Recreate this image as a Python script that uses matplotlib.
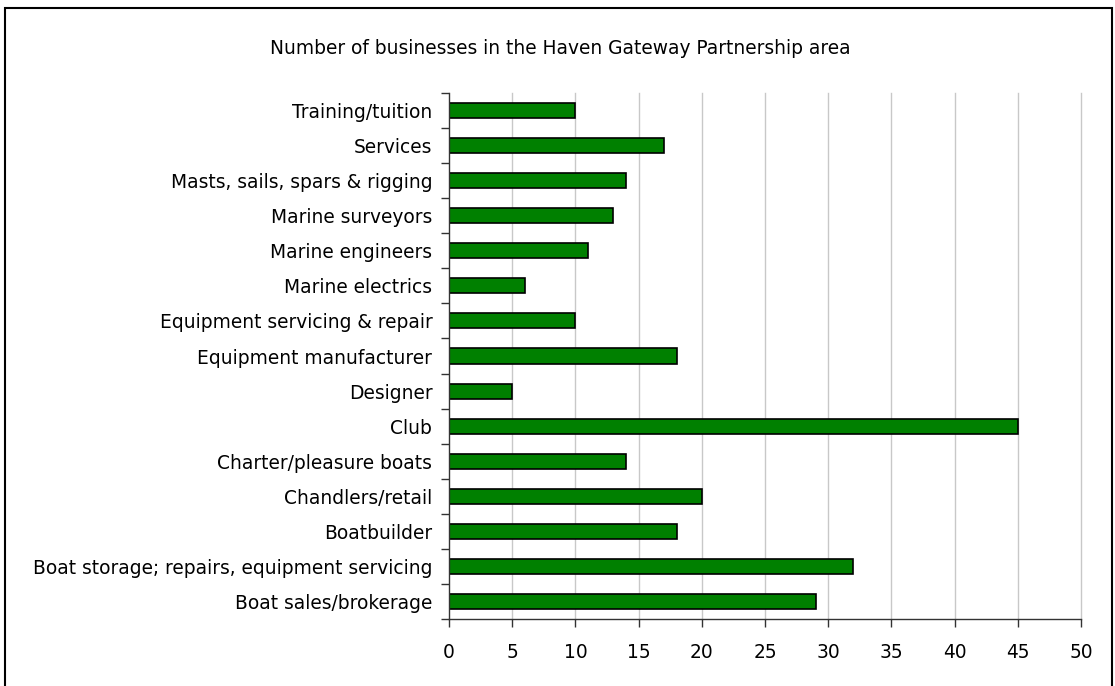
import matplotlib
matplotlib.use("Agg")
import matplotlib.pyplot as plt
from matplotlib.patches import Rectangle

categories = [
    "Boat sales/brokerage",
    "Boat storage; repairs, equipment servicing",
    "Boatbuilder",
    "Chandlers/retail",
    "Charter/pleasure boats",
    "Club",
    "Designer",
    "Equipment manufacturer",
    "Equipment servicing & repair",
    "Marine electrics",
    "Marine engineers",
    "Marine surveyors",
    "Masts, sails, spars & rigging",
    "Services",
    "Training/tuition",
]
counts = [29, 32, 18, 20, 14, 45, 5, 18, 10, 6, 11, 13, 14, 17, 10]
x_ticks = [0, 5, 10, 15, 20, 25, 30, 35, 40, 45, 50]
title = "Number of businesses in the Haven Gateway Partnership area"

plt.rcParams["font.family"] = ["DejaVu Sans"]
FS = 13.4

W, H = 1115, 686
fig = plt.figure(figsize=(W / 100, H / 100), dpi=100)

# outer frame
fig.patches.append(Rectangle((5 / W, -0.01), (1112 - 5) / W, (H - 8) / H + 0.01,
                             transform=fig.transFigure, fill=False,
                             edgecolor="black", linewidth=1.5))

ax = fig.add_axes([449 / W, (H - 619) / H, (1081 - 449) / W, (619 - 93) / H])

pos = list(range(len(categories)))
ax.barh(pos, counts, height=0.43, color="#008000", edgecolor="black", linewidth=1.2, zorder=3)

ax.set_xlim(0, 50)
ax.set_ylim(-0.5, len(categories) - 0.5)
ax.set_xticks(x_ticks)
ax.set_xticklabels([str(t) for t in x_ticks], fontsize=FS)
ax.set_yticks(pos)
ax.set_yticklabels(categories, fontsize=FS)
ax.tick_params(axis="y", length=0, pad=12)
ax.tick_params(axis="x", length=6, width=1, color="#333333", pad=11, direction="out")

# category boundary ticks on the y axis
ax.set_yticks([p - 0.5 for p in pos] + [len(categories) - 0.5], minor=True)
ax.tick_params(axis="y", which="minor", length=6, width=1, color="#333333", direction="out")

# vertical gridlines (including the one at the right end of the scale)
for t in x_ticks[1:]:
    ax.axvline(t, color="#c8c8c8", linewidth=1, zorder=0, clip_on=False)

for s in ["top", "right"]:
    ax.spines[s].set_visible(False)
for s in ["left", "bottom"]:
    ax.spines[s].set_color("#333333")
    ax.spines[s].set_linewidth(1)
    ax.spines[s].set_zorder(4)

fig.text(560 / W, (H - 48) / H, title, ha="center", va="center", fontsize=FS)

fig.savefig("out.png", dpi=100)
